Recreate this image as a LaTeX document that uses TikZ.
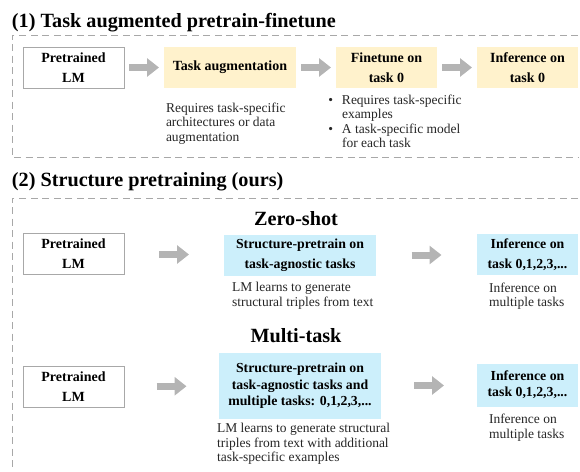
\documentclass[tikz,border=0pt]{standalone}
\usepackage{fontspec}
\setmainfont{Liberation Serif}
\usetikzlibrary{arrows.meta, positioning, calc}

\definecolor{taskyellow}{HTML}{FFF2CC}
\definecolor{structblue}{HTML}{CCEFFB}
\definecolor{arrowgray}{HTML}{B4B4B4}
\definecolor{framegray}{HTML}{A8A8A8}
\definecolor{notegray}{HTML}{262626}

\begin{document}
\begin{tikzpicture}[x=1pt, y=-1pt,
			every node/.style={inner sep=0pt, outer sep=0pt},
			lmbox/.style={draw=framegray, fill=white, line width=0.9pt,
				minimum width=101pt, minimum height=41pt, align=center,
				font=\fontsize{14}{20}\selectfont\bfseries},
			yellowbox/.style={fill=taskyellow, minimum height=41pt, align=center,
				font=\fontsize{14}{20}\selectfont\bfseries},
			bluebox/.style={fill=structblue, minimum height=41pt, align=center,
				font=\fontsize{13.8}{20}\selectfont\bfseries},
			note/.style={anchor=north west, align=left, text=notegray,
				font=\fontsize{13.5}{14.5}\selectfont},
			heading/.style={font=\fontsize{20.2}{22}\selectfont\bfseries},
			fatarrow/.style={draw=arrowgray, line width=7pt,
				-{Triangle[length=12pt, width=18pt]}},
			frame/.style={draw=framegray, line width=1pt,
				dash pattern=on 7pt off 4.5pt},
		]
		\useasboundingbox (0,0) rectangle (580,471);

		% Section (1)
		\node (title1) [heading, anchor=base west] at (12,27)
		{(1) Task augmented pretrain-finetune};
		\draw [frame] (578,35) -- (12,35) -- (12,157) -- (578,157);

		\node (lm1) [lmbox] at (73.5,67.5) {Pretrained\\LM};
		\node (aug) [yellowbox, minimum width=132pt] at (230,67.5) {Task augmentation};
		\node (fine) [yellowbox, minimum width=101pt] at (386.5,67.5) {Finetune on\\task 0};
		\node (inf0) [yellowbox, minimum width=101pt] at (527.5,67.5) {Inference on\\task 0};

		\node (augnote) [note] at (166,102.5)
		{Requires task-specific\\architectures or data\\augmentation};
		\node (finenote) [note] at (342,94.5)
		{\llap{\textbullet\hspace{9pt}}Requires task-specific\\examples\\
			\llap{\textbullet\hspace{9pt}}A task-specific model\\for each task};

		\draw [fatarrow] ($(lm1.east)!0.5!(aug.west)+(-15,0)$) -- ++(30,0);
		\draw [fatarrow] ($(aug.east)!0.5!(fine.west)+(-15,0)$) -- ++(30,0);
		\draw [fatarrow] ($(fine.east)!0.5!(inf0.west)+(-15,0)$) -- ++(30,0);

		% Section (2)
		\node (title2) [heading, anchor=base west] at (12,186)
		{(2) Structure pretraining (ours)};
		\draw [frame] (578,198) -- (12,198) -- (12,471);

		% Zero-shot
		\node (zs) [heading, anchor=base] at (296,225) {Zero-shot};
		\node (lm2) [lmbox] at (73.5,253.5) {Pretrained\\LM};
		\node (spzs) [bluebox, minimum width=152pt] at (300,255.5)
		{Structure-pretrain on\\task-agnostic tasks};
		\node (infzs) [bluebox, minimum width=101pt] at (527.5,254.5)
		{Inference on\\task 0,1,2,3,...};
		\node (spzsnote) [note] at (232,282.5)
		{LM learns to generate\\structural triples from text};
		\node (infzsnote) [note] at (489,282.5)
		{Inference on\\multiple tasks};

		\draw [fatarrow] ($(lm2.east)!0.5!(spzs.west)+(-15,0)$) -- ++(30,0);
		\draw [fatarrow] ($(spzs.east)!0.5!(infzs.west)+(-15,0)$) -- ++(30,0);

		% Multi-task
		\node (mt) [heading, anchor=base] at (296,342) {Multi-task};
		\node (lm3) [lmbox] at (73.5,386.5) {Pretrained\\LM};
		\node (spmt) [bluebox, minimum width=162pt, minimum height=66pt,
			font=\fontsize{13.8}{16.5}\selectfont\bfseries] at (300,386)
		{Structure-pretrain on\\task-agnostic tasks and\\multiple tasks: 0,1,2,3,...};
		\node (infmt) [bluebox, minimum width=101pt, minimum height=43pt,
			font=\fontsize{13.8}{16}\selectfont\bfseries] at (527.5,385)
		{Inference on\\task 0,1,2,3,...};
		\node (spmtnote) [note] at (217,423.5)
		{LM learns to generate structural\\triples from text with additional\\task-specific examples};
		\node (infmtnote) [note] at (489,414)
		{Inference on\\multiple tasks};

		\draw [fatarrow] ($(lm3.east)!0.5!(spmt.west)+(-15,0)$) -- ++(30,0);
		\draw [fatarrow] ($(spmt.east)!0.5!(infmt.west)+(-15,0)$) -- ++(30,0);
	\end{tikzpicture}
\end{document}
